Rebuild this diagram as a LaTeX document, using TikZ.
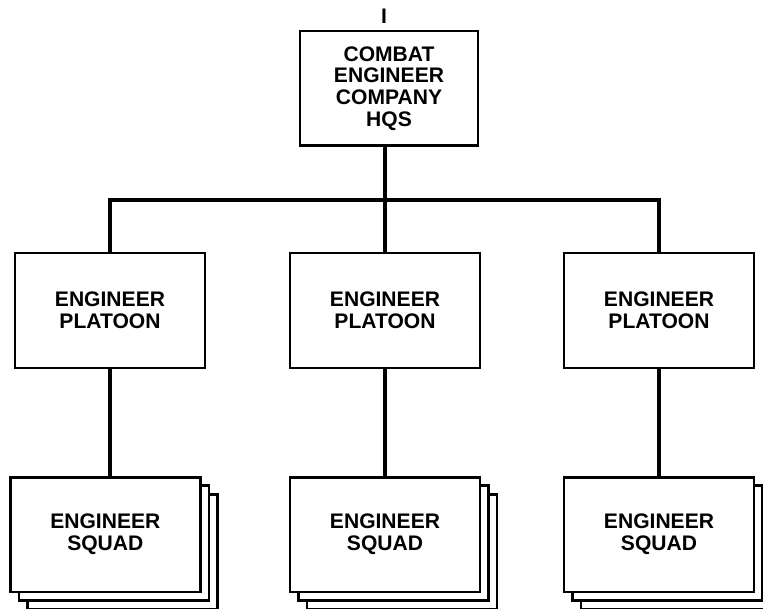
\documentclass[tikz,border=0pt]{standalone}
\usepackage{fontspec}
\setmainfont{Liberation Sans}
\usetikzlibrary{positioning,shadows}

\begin{document}
\begin{tikzpicture}[
    x=0.75pt,y=-0.75pt,
    node distance=80pt,
    box/.style={draw,line width=2pt,fill=white,align=center,inner sep=0pt,font=\fontsize{15.8}{16.2}\selectfont\bfseries},
    hqbox/.style={box,minimum width=133.5pt,minimum height=86pt},
    ptbox/.style={box,minimum width=142.5pt,minimum height=86pt},
    sqbox/.style={ptbox,double copy shadow={shadow xshift=6.4pt,shadow yshift=-6.4pt,draw=black,line width=2pt,fill=white}},
    link/.style={line width=3pt}
  ]
    \useasboundingbox (0,0) rectangle (763,609);

    \node[hqbox] (hq) at (389,88.5) {COMBAT\\ENGINEER\\COMPANY\\HQS};
    \node[font=\fontsize{15.8}{16}\selectfont\bfseries] (size) at (384,16) {I};

    \node[ptbox] (p1) at (110,310.5) {ENGINEER\\PLATOON};
    \node[ptbox] (p2) at (385,310.5) {ENGINEER\\PLATOON};
    \node[ptbox] (p3) at (659,310.5) {ENGINEER\\PLATOON};

    \node[sqbox,below=80pt of p2] (s2) {ENGINEER\\SQUAD};
    \node[sqbox,below=80pt of p1,xshift=-3.5pt] (s1) {ENGINEER\\SQUAD};
    \node[sqbox,below=80pt of p3] (s3) {ENGINEER\\SQUAD};

    \coordinate (bar) at (385,200);

    \draw[link] (p2.north |- hq.south) -- (p2.north);
    \draw[link] (p1.north) |- (bar) -| (p3.north);
    \draw[link] (p1.south) -- (p1.south |- s1.north);
    \draw[link] (p2.south) -- (s2.north);
    \draw[link] (p3.south) -- (s3.north);
  \end{tikzpicture}
\end{document}
